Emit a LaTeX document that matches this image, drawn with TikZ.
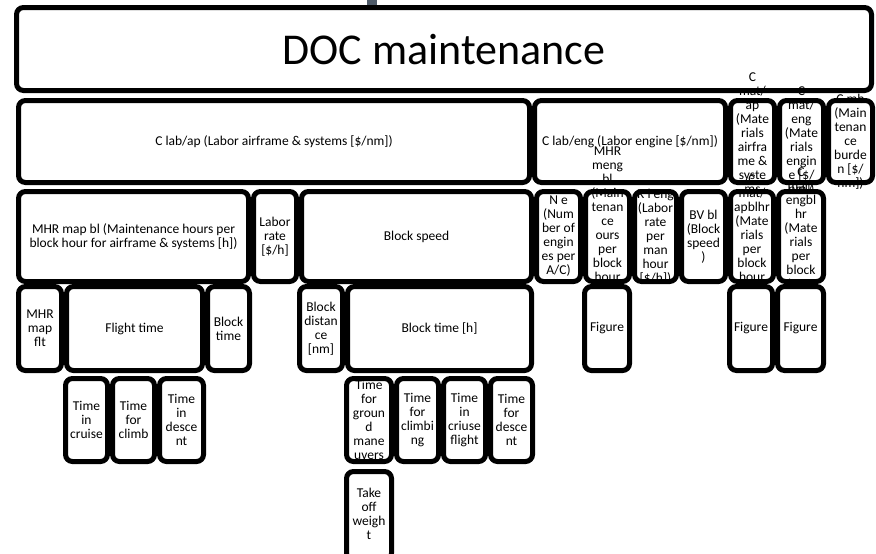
\documentclass[tikz,border=0pt]{standalone}
\usepackage{fontspec}
\setmainfont{Carlito}
\definecolor{slate}{RGB}{78,90,104}
\tikzset{
  blk/.style={draw, line width=5pt, rounded corners=7pt, fill=white},
  lbl/.style={align=center, inner sep=0pt, font=\fontsize{13.5}{14}\selectfont},
}
\begin{document}
\begin{tikzpicture}[x=1pt,y=-1pt]
\useasboundingbox (0,0) rectangle (876,554);
\fill[slate] (367,0) rectangle (377,6);
%
\draw[blk] (16.5,7.5) rectangle (871.5,90.5);
\node[lbl, font=\fontsize{44}{50}\selectfont] (doc) at (444,50) {DOC maintenance};
%
\draw[blk] (18.5,100.5) rectangle (529.5,182.5);
\node[lbl] (labap) at (274,141.5) {C lab/ap (Labor airframe \& systems [\$/nm])};
\draw[blk] (534.5,100.5) rectangle (725.5,182.5);
\node[lbl] (labeng) at (630,141.5) {C lab/eng (Labor engine [\$/nm])};
\draw[blk] (730.5,100.5) rectangle (774.5,182.5);
\node[lbl] (matap) at (752.5,141.5) {C\\mat/\\ap\\(Mate\\rials\\airfra\\me \&\\syste\\ms\\{[}\$/nm])};
\draw[blk] (779.5,100.5) rectangle (823.5,182.5);
\node[lbl] (mateng) at (801.5,141.5) {C\\mat/\\eng\\(Mate\\rials\\engin\\e [\$/\\nm])};
\draw[blk] (828.5,100.5) rectangle (872.5,182.5);
\node[lbl] (mb) at (850.5,141.5) {C mb\\(Main\\tenan\\ce\\burde\\n [\$/\\nm])};
%
\draw[blk] (18.5,191.5) rectangle (248.5,281.5);
\node[lbl] (mhrbl) at (133.5,236.5) {MHR map bl (Maintenance hours per\\block hour for airframe \& systems [h])};
\draw[blk] (253.5,191.5) rectangle (296.5,281.5);
\node[lbl] (labrate) at (275,236.5) {Labor\\rate\\{[}\$/h]};
\draw[blk] (301.5,191.5) rectangle (531.5,281.5);
\node[lbl] (bspeed) at (416.5,236.5) {Block speed};
\draw[blk] (536.5,191.5) rectangle (580.5,281.5);
\node[lbl] (ne) at (558.5,236.5) {N e\\(Num\\ber of\\engin\\es per\\A/C)};
\draw[blk] (585.5,191.5) rectangle (629.5,281.5);
\node[lbl] (mhrmeng) at (607.5,236.5) {MHR\\meng\\bl\\(Main\\tenan\\ce\\ours\\per\\block\\hour\\for\\engin\\e [h])};
\draw[blk] (634.5,191.5) rectangle (676.5,281.5);
\node[lbl] (rleng) at (655.5,236.5) {R l eng\\(Labor\\rate\\per\\man\\hour\\{[}\$/h])};
\draw[blk] (681.5,191.5) rectangle (725.5,281.5);
\node[lbl] (bvbl) at (703.5,236.5) {BV bl\\(Block\\speed\\)};
\draw[blk] (730.5,191.5) rectangle (773.5,281.5);
\node[lbl] (matapblhr) at (752,236.5) {C\\mat/\\apblhr\\(Mate\\rials\\per\\block\\hour\\{[}\$/h])};
\draw[blk] (778.5,191.5) rectangle (823.5,281.5);
\node[lbl] (matengblhr) at (801,236.5) {C\\mat/\\engbl\\hr\\(Mate\\rials\\per\\block\\hour\\{[}\$/h])};
%
\draw[blk] (18.5,286.5) rectangle (61.5,370.5);
\node[lbl] (mhrflt) at (40,328.5) {MHR\\map\\flt};
\draw[blk] (66.5,286.5) rectangle (202.5,370.5);
\node[lbl] (flight) at (134.5,328.5) {Flight time};
\draw[blk] (207.5,286.5) rectangle (249.5,370.5);
\node[lbl] (blocktime) at (228.5,328.5) {Block\\time};
\draw[blk] (299.5,286.5) rectangle (342.5,370.5);
\node[lbl] (bdist) at (321,328.5) {Block\\distan\\ce\\{[}nm]};
\draw[blk] (347.5,286.5) rectangle (531.5,370.5);
\node[lbl] (bth) at (439.5,328.5) {Block time [h]};
\draw[blk] (584.5,286.5) rectangle (629.5,370.5);
\node[lbl] (figa) at (607,328.5) {Figure};
\draw[blk] (729.5,286.5) rectangle (772.5,370.5);
\node[lbl] (figb) at (751,328.5) {Figure};
\draw[blk] (777.5,286.5) rectangle (823.5,370.5);
\node[lbl] (figc) at (800.5,328.5) {Figure};
%
\draw[blk] (65.5,378.5) rectangle (107.5,461.5);
\node[lbl] (tcruise) at (86.5,420) {Time\\in\\cruise};
\draw[blk] (112.5,378.5) rectangle (154.5,461.5);
\node[lbl] (tclimb) at (133.5,420) {Time\\for\\climb};
\draw[blk] (159.5,378.5) rectangle (203.5,461.5);
\node[lbl] (tdesc) at (181.5,420) {Time\\in\\desce\\nt};
\draw[blk] (346.5,378.5) rectangle (391.5,461.5);
\node[lbl] (tground) at (369,420) {Time\\for\\groun\\d\\mane\\uvers};
\draw[blk] (396.5,378.5) rectangle (438.5,461.5);
\node[lbl] (tclimbing) at (417.5,420) {Time\\for\\climbi\\ng};
\draw[blk] (443.5,378.5) rectangle (485.5,461.5);
\node[lbl] (tcruisefl) at (464.5,420) {Time\\in\\criuse\\flight};
\draw[blk] (490.5,378.5) rectangle (532.5,461.5);
\node[lbl] (tdescent) at (511.5,420) {Time\\for\\desce\\nt};
%
\draw[blk] (346.5,471.5) rectangle (391.5,560);
\node[lbl] (toff) at (369,514) {Take\\off\\weigh\\t};
\end{tikzpicture}
\end{document}
